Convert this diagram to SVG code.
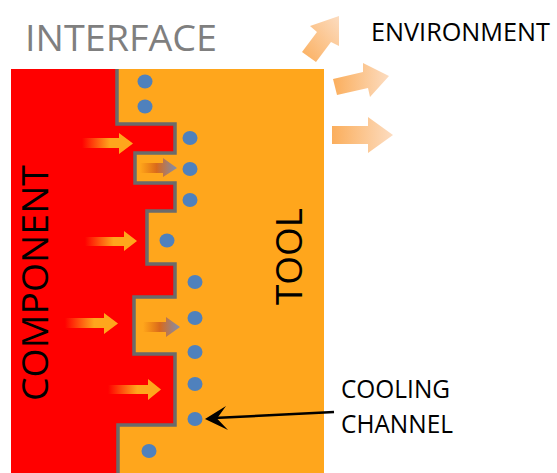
<svg xmlns="http://www.w3.org/2000/svg" width="557" height="473" viewBox="0 0 557 473">
<style>
text{font-family:"Open Sans","Liberation Sans",sans-serif}
.dot{fill:#4f81bd}
.t{fill:#000}
</style>
<defs>
<linearGradient id="hot"><stop offset="0" stop-color="#ffa61c" stop-opacity="0"/><stop offset="0.55" stop-color="#ffa61c"/><stop offset="1" stop-color="#ffa61c"/></linearGradient>
<linearGradient id="mix"><stop offset="0" stop-color="#e46c0a" stop-opacity="0"/><stop offset="0.45" stop-color="#d9691c"/><stop offset="1" stop-color="#7f8fb0"/></linearGradient>
<linearGradient id="out"><stop offset="0" stop-color="#fbae5c"/><stop offset="1" stop-color="#fcdcc0"/></linearGradient>
<linearGradient id="outA" x1="0" y1="1" x2="1" y2="0"><stop offset="0" stop-color="#fbae5c"/><stop offset="1" stop-color="#fcdcc0"/></linearGradient>
</defs>
<g id="tool"><rect x="11" y="69" width="313" height="404" fill="#ffa61c"/><text transform="translate(302 305) rotate(-90)" font-size="37" textLength="97" lengthAdjust="spacingAndGlyphs" class="t">TOOL</text></g>
<g id="component"><path d="M11 69H117V124H175V153H135V183H175V211H147V264H175V297H134V354H175V425H118V473H11Z" fill="#ff0000"/><text transform="translate(48 401) rotate(-90)" font-size="37" textLength="236" lengthAdjust="spacingAndGlyphs" class="t">COMPONENT</text></g>
<g id="interface"><path d="M117 69V124H175V153H135V183H175V211H147V264H175V297H134V354H175V425H118V473" fill="none" stroke="#6b6b6b" stroke-width="3.500"/><text x="25" y="51" font-size="37" textLength="192" lengthAdjust="spacingAndGlyphs" fill="#7f7f7f">INTERFACE</text></g>
<g id="cooling-channels">
<ellipse class="dot" cx="145" cy="81.500" rx="7.500" ry="7"/><ellipse class="dot" cx="145" cy="106.500" rx="7.500" ry="7"/><ellipse class="dot" cx="190" cy="138" rx="7.500" ry="7"/><ellipse class="dot" cx="190" cy="169" rx="7.500" ry="7"/><ellipse class="dot" cx="190" cy="200" rx="7.500" ry="7"/><ellipse class="dot" cx="167" cy="240.500" rx="7.500" ry="7"/><ellipse class="dot" cx="195" cy="282" rx="7.500" ry="7"/><ellipse class="dot" cx="195" cy="318" rx="7.500" ry="7"/><ellipse class="dot" cx="195" cy="352" rx="7.500" ry="7"/><ellipse class="dot" cx="195" cy="384" rx="7.500" ry="7"/><ellipse class="dot" cx="195" cy="419" rx="7.500" ry="7"/><ellipse class="dot" cx="149" cy="451" rx="7.500" ry="7"/>
</g>
<g id="connectors">
<g fill="url(#hot)">
<path d="M82 138H119V133L133 143.500L119 154V148H82Z"/>
<path d="M85 237H124V231L137 241L124 251V246H85Z"/>
<path d="M65 318H104V313L118 323.500L104 334V328H65Z"/>
<path d="M108 385H148V379L161 389.500L148 400V394H108Z"/>
</g>
<g fill="url(#mix)">
<path d="M140 163H163V158L177 168L163 177V173H140Z"/>
<path d="M143 322H166V317L180 327L166 337V332H143Z"/>
</g>
<path d="M339 16L310 26L317 32L302 52L316 62L331 42L339 46Z" fill="url(#outA)"/>
<path d="M333 79L363 72V63L389 76L370 97L368 88L337 95Z" fill="url(#out)"/>
<path d="M332 126H368V117L393 135L368 153V144H332Z" fill="url(#out)"/>
<line x1="334" y1="412" x2="214" y2="418" stroke="#000" stroke-width="2.500"/>
<path d="M205 419L226 406L217 418.500L228 430Z" fill="#000"/>
</g>
<g id="environment"><text x="371" y="41" font-size="25" textLength="179" lengthAdjust="spacingAndGlyphs" class="t">ENVIRONMENT</text></g>
<g id="cooling-label"><text x="341" y="398" font-size="25" textLength="109" lengthAdjust="spacingAndGlyphs" class="t">COOLING</text><text x="341" y="433" font-size="25" textLength="112" lengthAdjust="spacingAndGlyphs" class="t">CHANNEL</text></g>
</svg>
